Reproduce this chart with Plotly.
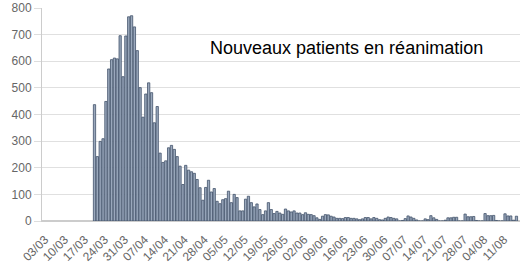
import pandas as pd
import plotly.graph_objects as go

# Daily new ICU admissions (France), from 19/03 to 14/08
start_date = "2020-03-19"
march = [437, 242, 299, 309, 449, 571, 606, 612, 609, 696, 542, 695, 767]
april = [771, 729, 640, 501, 390, 477, 519, 482, 369, 430, 255, 220, 226, 275, 284,
         269, 242, 206, 137, 209, 191, 185, 179, 156, 125, 78, 126, 153, 109, 122]
may = [74, 65, 80, 84, 112, 69, 100, 88, 38, 38, 82, 93, 69, 53, 64, 43, 24, 38, 69,
       43, 28, 36, 30, 25, 45, 38, 34, 38, 30, 30, 24]
june = [31, 25, 24, 20, 12, 6, 18, 24, 23, 18, 15, 10, 10, 9, 13, 13, 10, 10, 8, 5,
        8, 13, 13, 8, 13, 10, 5, 4, 10, 15]
july = [13, 10, 8, 0, 2, 9, 19, 15, 10, 4, 0, 0, 8, 5, 20, 12, 6, 0, 0, 3, 12, 12,
        14, 14, 0, 0, 26, 16, 16, 17, 2]
august = [0, 0, 28, 20, 20, 21, 2, 0, 0, 27, 19, 19, 3, 18]

values = march + april + may + june + july + august
dates = pd.date_range(start_date, periods=len(values), freq="D")

tick_dates = pd.date_range("2020-03-03", "2020-08-11", freq="7D")
tick_labels = [d.strftime("%d/%m") for d in tick_dates]

title_text = "Nouveaux patients en réanimation"

fig = go.Figure()
fig.add_trace(go.Bar(
    x=dates, y=values,
    marker=dict(color="#9aa8bc", line=dict(color="#43536b", width=0.8)),
))

fig.update_layout(
    width=524, height=263,
    margin=dict(l=42, r=4, t=8, b=42),
    paper_bgcolor="white", plot_bgcolor="white",
    bargap=0.2,
    showlegend=False,
    font=dict(family="Liberation Sans, Arial, sans-serif", color="#666666", size=12),
    xaxis=dict(
        type="date", automargin=False,
        range=["2020-02-29 14:00", "2020-08-15 06:00"],
        tickmode="array", tickvals=tick_dates, ticktext=tick_labels,
        tickangle=-45, showgrid=False,
        showline=True, linecolor="#cccccc", linewidth=1,
        ticks="outside", ticklen=6, tickcolor="rgba(0,0,0,0)",
        ticklabelshift=-4,
        tickfont=dict(size=12, color="#666666"),
    ),
    yaxis=dict(
        range=[0, 800], dtick=100, automargin=False,
        showgrid=True, gridcolor="#e0e0e0", gridwidth=1,
        showline=True, linecolor="#cccccc", linewidth=1,
        zeroline=True, zerolinecolor="#cccccc",
        ticks="outside", ticklen=7, tickcolor="#dddddd",
        tickfont=dict(size=12, color="#666666"),
    ),
    annotations=[dict(
        text=title_text, xref="paper", yref="paper",
        x=0.636, y=0.812, xanchor="center", yanchor="middle",
        showarrow=False,
        font=dict(family="Liberation Sans, Arial, sans-serif", size=18, color="#000000"),
    )],
)

fig.write_html("out.html")
